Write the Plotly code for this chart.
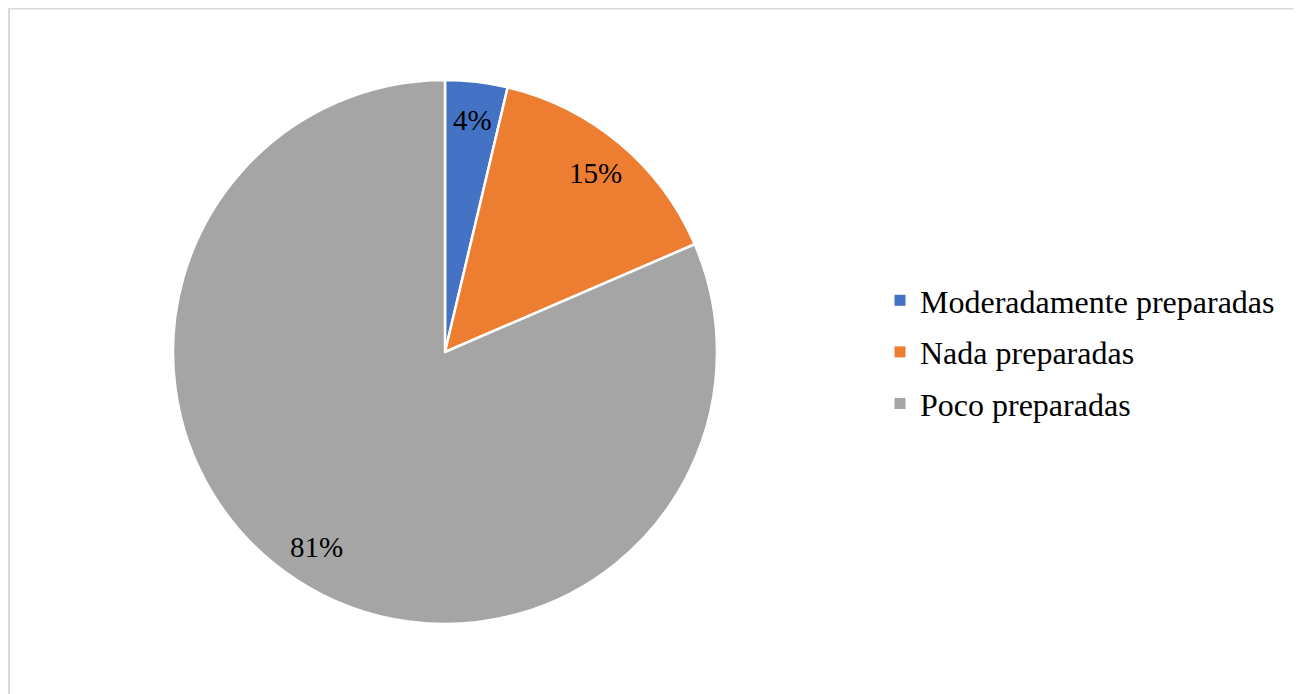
"""Pie chart: preparation level (counts per category)."""
import math
import plotly.graph_objects as go

categories = ["Moderadamente preparadas", "Nada preparadas", "Poco preparadas"]
counts = [1, 4, 22]
colors = ["#4472C4", "#ED7D31", "#A5A5A5"]

FONT = "Liberation Serif, Times New Roman, serif"
W, H = 1294, 686          # page body has an 8px margin
CX, CY, R = 437, 344, 272  # pie centre / radius in figure pixels

fig = go.Figure()
fig.add_trace(go.Pie(
    labels=categories,
    values=counts,
    sort=False,
    direction="clockwise",
    rotation=0,
    marker=dict(colors=colors, line=dict(color="white", width=2.5)),
    textinfo="none",
    domain=dict(x=[(CX - R) / W, (CX + R) / W], y=[1 - (CY + R) / H, 1 - (CY - R) / H]),
    showlegend=False,
    hoverinfo="label+percent",
))

# percentage labels placed like Excel's "best fit" (outer part of each slice)
total = sum(counts)
cum = 0
annotations = []
for c in counts:
    mid = (cum + c / 2) / total * 2 * math.pi
    cum += c
    r = 0.86 * R
    annotations.append(dict(
        x=(CX + r * math.sin(mid)) / W, y=1 - (CY - r * math.cos(mid)) / H,
        xref="paper", yref="paper", xanchor="center", yanchor="middle",
        showarrow=False,
        text=f"{round(100 * c / total)}%",
        font=dict(family=FONT, size=29, color="black"),
    ))

# legend entries (separate groups so the row spacing can match)
for cat, col in zip(categories, colors):
    fig.add_trace(go.Scatter(
        x=[None], y=[None], mode="markers", name=cat, legendgroup=cat,
        marker=dict(symbol="square", size=11, color=col),
    ))

fig.update_layout(
    width=W, height=H,
    margin=dict(t=0, b=0, l=0, r=0),
    paper_bgcolor="white", plot_bgcolor="white",
    xaxis=dict(visible=False), yaxis=dict(visible=False),
    font=dict(family=FONT, size=32, color="black"),
    legend=dict(x=872 / W, xanchor="left", y=1 - 344 / H, yanchor="middle",
                tracegroupgap=7, font=dict(family=FONT, size=32),
                bgcolor="rgba(0,0,0,0)"),
    annotations=annotations,
    shapes=[dict(type="rect", xref="paper", yref="paper",
                 x0=1 / W, x1=1292 / W, y0=-0.05, y1=1 - 0.5 / H,
                 line=dict(color="#D9D9D9", width=2))],
)

fig.write_html("out.html")
